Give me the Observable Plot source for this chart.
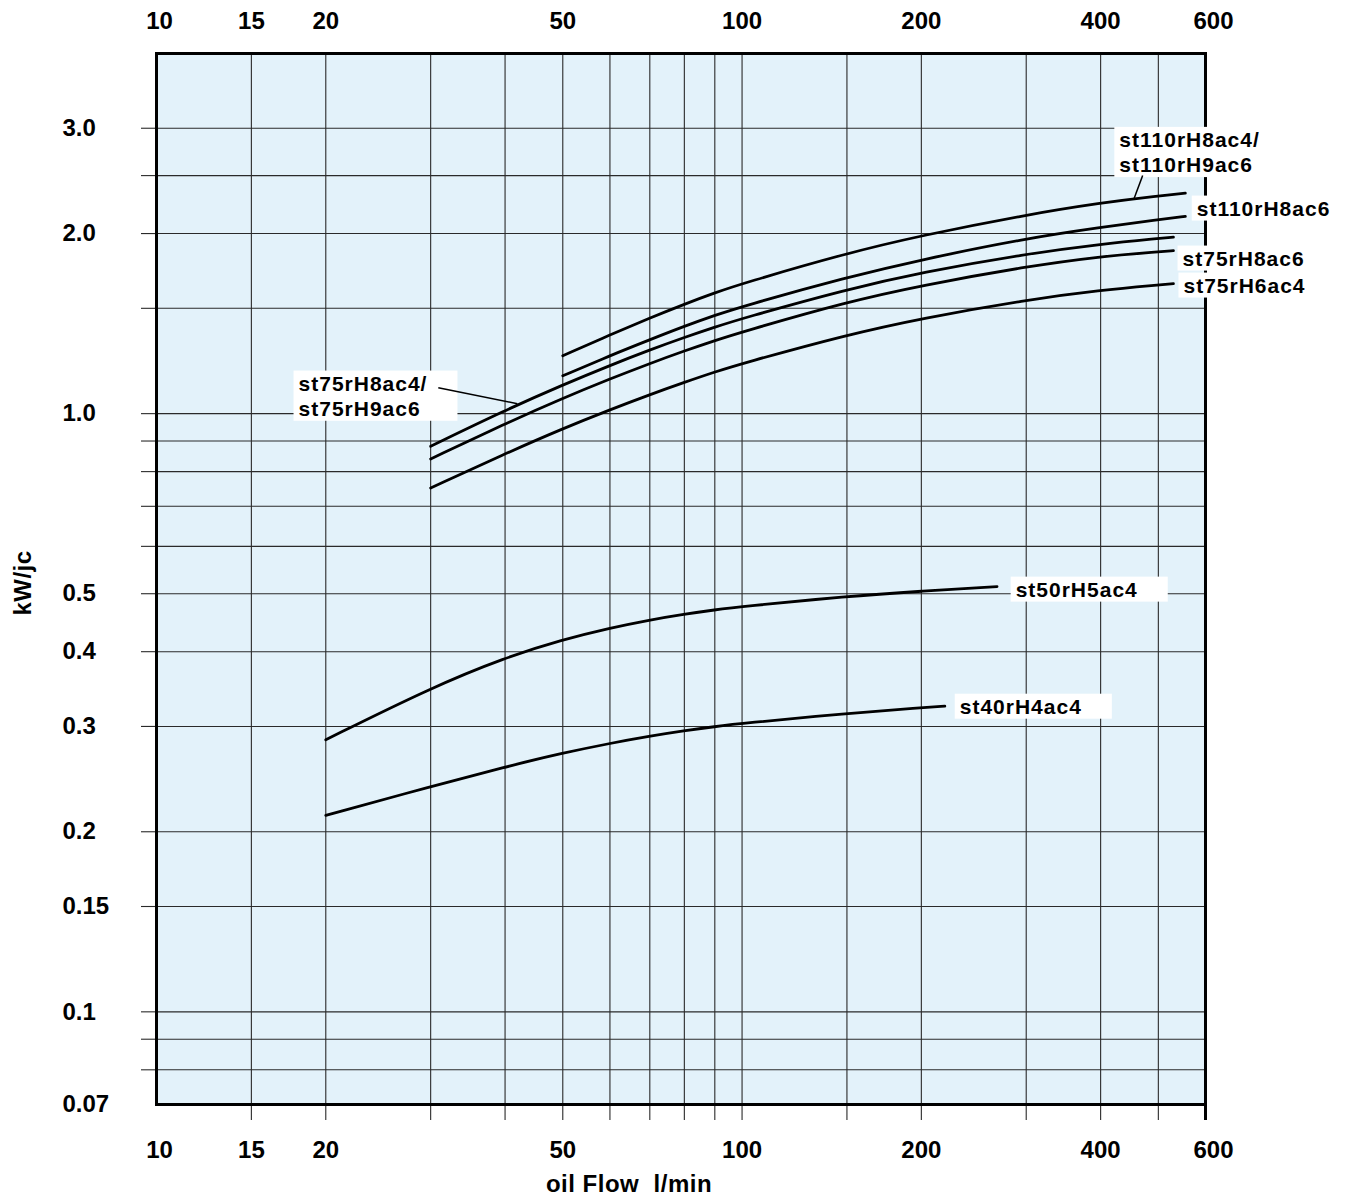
<!DOCTYPE html>
<html>
<head>
<meta charset="utf-8">
<script src="https://cdn.jsdelivr.net/npm/d3@7"></script>
<script src="https://cdn.jsdelivr.net/npm/@observablehq/plot@0.6"></script>
<style>
html, body { margin: 0; padding: 0; background: #fff; }
g[aria-description="series-label"] text { letter-spacing: 1px; }
g[aria-description="axis-title"] text { letter-spacing: 0.5px; }
</style>
</head>
<body>
<div id="chart"></div>
<script>
// ---- axes ----
const xGrid = [15, 20, 30, 40, 50, 60, 70, 80, 90, 100, 150, 200, 300, 400, 500];
const xLabelsMid = [15, 20, 50, 100, 200, 400];
const xLabelFirst = [10];
const xLabelLast = [600];
const yGrid = [0.08, 0.09, 0.1, 0.15, 0.2, 0.3, 0.4, 0.5, 0.6, 0.7, 0.8, 0.9, 1, 1.5, 2, 2.5, 3];
const yLabels = [3, 2, 1, 0.5, 0.4, 0.3, 0.2, 0.15, 0.1, 0.07];

// ---- series (oil flow l/min -> kW/°C) ----
const flow110 = [50, 60, 70, 80, 90, 100, 150, 200, 300, 400, 500, 555];
const kw_st110rH8ac4 = [1.25, 1.354, 1.445, 1.524, 1.592, 1.650, 1.855, 1.985, 2.150, 2.251, 2.312, 2.336];
const kw_st110rH8ac6 = [1.157, 1.25, 1.329, 1.40, 1.46, 1.511, 1.690, 1.809, 1.963, 2.048, 2.11, 2.137];

const flow75 = [30, 40, 50, 60, 70, 80, 90, 100, 150, 200, 300, 400, 500, 530];
const kw_st75rH8ac4 = [0.882, 1.013, 1.117, 1.204, 1.278, 1.341, 1.395, 1.443, 1.614, 1.723, 1.850, 1.920, 1.963, 1.973];
const kw_st75rH8ac6 = [0.840, 0.962, 1.061, 1.143, 1.213, 1.273, 1.325, 1.370, 1.538, 1.638, 1.762, 1.832, 1.865, 1.873];
const kw_st75rH6ac4 = [0.751, 0.857, 0.944, 1.015, 1.076, 1.128, 1.174, 1.213, 1.355, 1.443, 1.550, 1.608, 1.641, 1.649];

const flow50 = [20, 30, 40, 50, 60, 70, 80, 90, 100, 150, 200, 268];
const kw_st50rH5ac4 = [0.285, 0.348, 0.391, 0.419, 0.438, 0.452, 0.462, 0.470, 0.476, 0.495, 0.505, 0.514];

const flow40 = [20, 30, 40, 50, 60, 70, 80, 90, 100, 150, 200, 219];
const kw_st40rH4ac4 = [0.213, 0.238, 0.2567, 0.2708, 0.2811, 0.289, 0.2951, 0.2998, 0.3036, 0.3154, 0.3223, 0.3243];

// ---- labels (anchor in data units) ----
const labelText = ["st110rH8ac4/\nst110rH9ac6", "st110rH8ac6", "st75rH8ac6", "st75rH6ac4", "st75rH8ac4/\nst75rH9ac6", "st50rH5ac4", "st40rH4ac4"];
const labelFlow = [430, 580, 549, 551, 18, 288, 232];
const labelKw = [2.744, 2.211, 1.824, 1.644, 1.074, 0.510, 0.325];

// leader lines (data units)
const leaderFlow1 = [470.6, 30.9];
const leaderKw1 = [2.501, 1.105];
const leaderFlow2 = [454.6, 41.96];
const leaderKw2 = [2.28, 1.039];

// ---- build tables ----
const curves = [
  {series: "st110rH8ac4/st110rH9ac6", flow: flow110, kw: kw_st110rH8ac4},
  {series: "st110rH8ac6", flow: flow110, kw: kw_st110rH8ac6},
  {series: "st75rH8ac4/st75rH9ac6", flow: flow75, kw: kw_st75rH8ac4},
  {series: "st75rH8ac6", flow: flow75, kw: kw_st75rH8ac6},
  {series: "st75rH6ac4", flow: flow75, kw: kw_st75rH6ac4},
  {series: "st50rH5ac4", flow: flow50, kw: kw_st50rH5ac4},
  {series: "st40rH4ac4", flow: flow40, kw: kw_st40rH4ac4}
];
const curveData = curves.flatMap(c => c.flow.map((f, i) => ({series: c.series, flow: f, kw: c.kw[i]})));
const labelData = labelText.map((t, i) => ({text: t, flow: labelFlow[i], kw: labelKw[i]}));
const leaderData = leaderFlow1.map((f, i) => ({x1: f, y1: leaderKw1[i], x2: leaderFlow2[i], y2: leaderKw2[i]}));

const FONT = "'Liberation Sans', Arial, Helvetica, sans-serif";
const GRID = "#2a2a2a";
const fmtX = d => `${d}`;
const fmtY = d => d >= 1 ? d.toFixed(1) : `${d}`;

const xText = (vals, anchor, dx) => Plot.axisX(vals, {
  anchor, tickSize: 0, tickPadding: anchor === "bottom" ? 36 : 25, dx,
  tickFormat: fmtX, fontSize: 24, fontWeight: "bold", fill: "black", label: null
});

const chart = Plot.plot({
  width: 1349,
  height: 1196,
  marginLeft: 156,
  marginRight: 144,
  marginTop: 53,
  marginBottom: 92,
  style: {fontFamily: FONT, background: "white", color: "black"},
  x: {type: "log", domain: [10, 600], range: [146, 1205], label: null},
  y: {type: "log", domain: [0.07, 4], label: null},
  marks: [
    Plot.frame({fill: "#e3f2fa"}),
    Plot.ruleX(xGrid, {stroke: GRID, strokeWidth: 1.1}),
    Plot.ruleY(yGrid, {stroke: GRID, strokeWidth: 1.1}),
    Plot.axisX(xGrid, {anchor: "bottom", tickSize: 16, fill: "none", stroke: GRID, strokeWidth: 1.1, label: null}),
    Plot.axisX(xLabelLast, {anchor: "bottom", tickSize: 16, fill: "none", stroke: "black", strokeWidth: 3, label: null}),
    Plot.axisY(yGrid, {anchor: "left", tickSize: 15, fill: "none", stroke: GRID, strokeWidth: 1.1, label: null}),
    xText(xLabelsMid, "bottom", 0),
    xText(xLabelFirst, "bottom", 13),
    xText(xLabelLast, "bottom", 8),
    xText(xLabelsMid, "top", 0),
    xText(xLabelFirst, "top", 13),
    xText(xLabelLast, "top", 8),
    Plot.axisY(yLabels, {
      anchor: "left", tickSize: 0, tickPadding: 0, textAnchor: "start", dx: -94,
      tickFormat: fmtY, fontSize: 24, fontWeight: "bold", fill: "black", label: null
    }),
    Plot.line(curveData, {x: "flow", y: "kw", z: "series", stroke: "black", strokeWidth: 2.8, curve: "basis"}),
    Plot.frame({stroke: "black", strokeWidth: 3}),
    Plot.text(labelData, {
      x: "flow", y: "kw", text: "text", textAnchor: "start", lineAnchor: "middle",
      fontSize: 21, fontWeight: "bold", lineHeight: 1.2, fill: "black",
      ariaDescription: "series-label"
    }),
    Plot.link(leaderData, {x1: "x1", y1: "y1", x2: "x2", y2: "y2", stroke: "black", strokeWidth: 1.5}),
    Plot.text(["oil Flow\u00a0 l/min"], {
      frameAnchor: "bottom", textAnchor: "middle", lineAnchor: "middle", dx: -52, dy: 80,
      fontSize: 24, fontWeight: "bold", fill: "black", ariaDescription: "axis-title"
    }),
    Plot.text(["kW/jc"], {
      frameAnchor: "left", textAnchor: "middle", lineAnchor: "middle", rotate: -90, dx: -133, dy: 4,
      fontSize: 24, fontWeight: "bold", fill: "black", ariaDescription: "axis-title"
    })
  ]
});

document.getElementById("chart").append(chart);

// white boxes behind the series labels
const SVGNS = "http://www.w3.org/2000/svg";
chart.querySelectorAll('g[aria-description="series-label"] text').forEach(t => {
  const b = t.getBBox();
  const r = document.createElementNS(SVGNS, "rect");
  r.setAttribute("x", b.x - 5);
  r.setAttribute("y", b.y - 1);
  r.setAttribute("width", b.width + 35);
  r.setAttribute("height", b.height + 2);
  r.setAttribute("fill", "white");
  r.setAttribute("stroke", "none");
  const tr = t.getAttribute("transform");
  if (tr) r.setAttribute("transform", tr);
  t.parentNode.insertBefore(r, t);
});
</script>
</body>
</html>
